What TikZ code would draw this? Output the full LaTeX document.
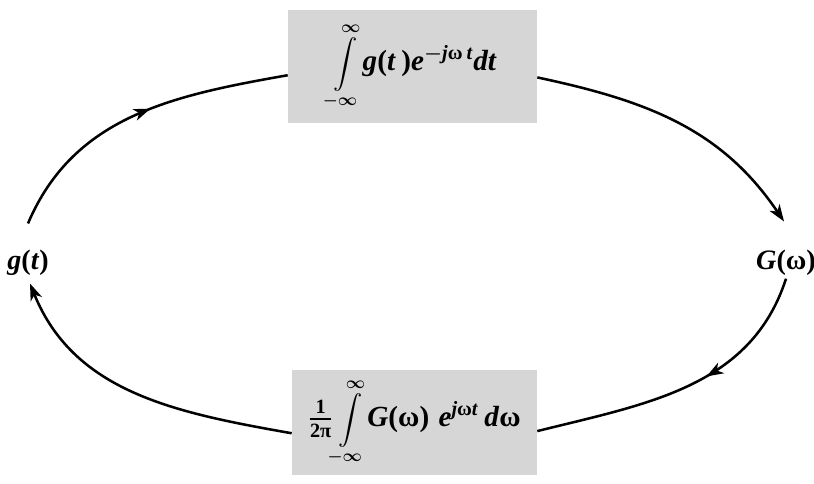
\documentclass[tikz,border=0pt]{standalone}
\usepackage{amsmath}
\usepackage{fontspec}
\setmainfont{Liberation Serif}
\usetikzlibrary{arrows.meta,decorations.markings}

\newcommand{\bi}[1]{\textbf{\textit{#1}}}
\newcommand{\intlim}{{\LARGE$\displaystyle\int\limits_{-\infty}^{\infty}$}}
\newcommand{\fwdformula}{\intlim$\bi{g}\textbf{(}\bi{t}\,\textbf{)}\bi{e}^{-\bi{j}\textbf{ω}\,\bi{t}}\bi{dt}$}
\newcommand{\invformula}{$\tfrac{\textbf{1}}{\textbf{2π}}$\intlim$\bi{G}\textbf{(ω)}\;\bi{e}^{\bi{j}\textbf{ω}\bi{t}}\,\bi{d}\textbf{ω}$}

\begin{document}
\begin{tikzpicture}[
    x=0.025cm, y=0.025cm,
    formbox/.style={fill=gray!32, inner sep=0pt, font=\huge\mathversion{bold}},
    lbl/.style={font=\fontsize{20}{24}\selectfont, inner sep=0pt},
    trans/.style={line width=1.8pt, >={Stealth[length=0.42cm, width=0.3cm, inset=0.12cm]}},
    midarrow/.style={postaction={decorate}, decoration={markings,
        mark=at position #1 with {\arrow{Stealth[length=0.42cm, width=0.3cm, inset=0.12cm]}}}},
]
\useasboundingbox (0,0) rectangle (814,483);

\node[formbox, minimum width=6.225cm, minimum height=2.825cm] (fwd) at (412.5,416.5) {\fwdformula};
\node[formbox, minimum width=6.125cm, minimum height=2.625cm] (inv) at (414.5,60.5) {\invformula};
\node[lbl] (gt) at (28,220.5) {\bi{g}\textbf{(}\bi{t}\textbf{)}};
\node[lbl] (Gw) at (786,220.5) {\bi{G}\textbf{(ω)}};

% forward transform
\draw[trans, midarrow=0.55] ([yshift=0.65cm]gt.north) to[out=67, in=190] (fwd.184);
\draw[trans, ->] (fwd.355) to[out=-12, in=124] ([xshift=-0.05cm, yshift=0.7cm]Gw.north);
% inverse transform
\draw[trans, midarrow=0.42] ([yshift=-0.08cm]Gw.south) to[out=252, in=14] (inv.356);
\draw[trans, ->] (inv.185) to[out=170, in=292] ([xshift=0.05cm, yshift=-0.2cm]gt.south);
\end{tikzpicture}
\end{document}
